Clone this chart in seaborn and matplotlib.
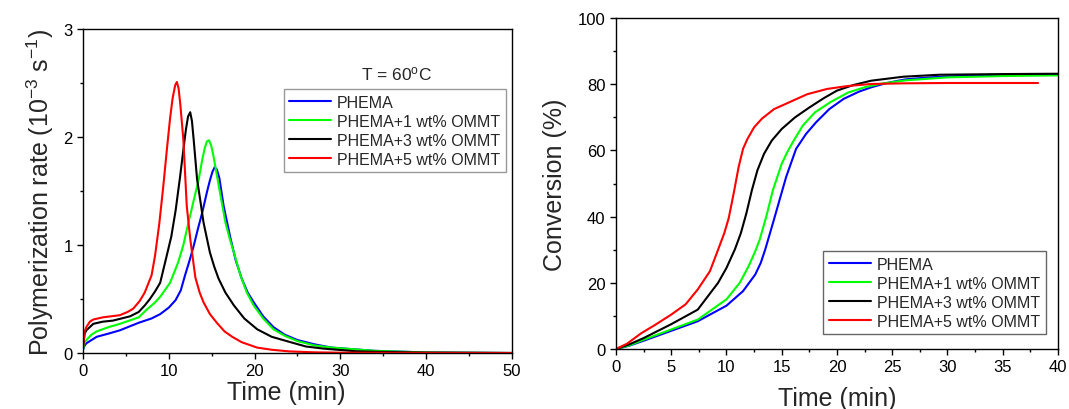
import pandas as pd
import seaborn as sns
import matplotlib.pyplot as plt
from matplotlib.ticker import MultipleLocator

# sample names and colours
names = ['PHEMA', 'PHEMA+1 wt% OMMT', 'PHEMA+3 wt% OMMT', 'PHEMA+5 wt% OMMT']
colors = ['#0000ff', '#00ff00', '#000000', '#ff0000']

# left panel: polymerization rate (10^-3 s^-1) vs time (min)
rate_t_0 = [0, 0.2, 0.4, 1.0, 1.6, 3.0, 4.3, 6.5, 8.0, 9.0, 10.0, 10.8, 11.4, 11.9, 12.4, 12.9, 13.4, 13.9, 14.45, 14.8, 15.1, 15.35, 15.6, 15.9, 16.4, 17.2, 17.8, 18.5, 19.2, 19.9, 21.0, 22.2, 23.5, 25, 27, 29, 34, 40, 50]
rate_0 = [0.03, 0.07, 0.09, 0.12, 0.15, 0.18, 0.21, 0.28, 0.32, 0.36, 0.42, 0.49, 0.58, 0.72, 0.85, 0.99, 1.15, 1.30, 1.49, 1.60, 1.68, 1.72, 1.70, 1.62, 1.36, 1.06, 0.86, 0.69, 0.56, 0.47, 0.34, 0.24, 0.17, 0.12, 0.08, 0.05, 0.02, 0.005, 0]
rate_t_1 = [0, 0.2, 0.4, 1.0, 1.6, 3.0, 4.3, 6.5, 7.4, 8.3, 9.0, 10.15, 11.1, 11.7, 12.3, 12.9, 13.5, 13.9, 14.2, 14.45, 14.7, 14.95, 15.2, 15.6, 16.1, 16.6, 17.1, 17.6, 18.35, 19.1, 19.9, 21.0, 22.2, 23.5, 25, 27, 29, 34, 40, 50]
rate_1 = [0.03, 0.10, 0.12, 0.17, 0.20, 0.24, 0.27, 0.33, 0.40, 0.46, 0.52, 0.65, 0.84, 1.00, 1.21, 1.41, 1.61, 1.79, 1.90, 1.96, 1.97, 1.92, 1.83, 1.65, 1.43, 1.21, 1.06, 0.93, 0.72, 0.56, 0.44, 0.32, 0.22, 0.16, 0.11, 0.07, 0.05, 0.02, 0.005, 0]
rate_t_3 = [0, 0.2, 0.4, 1.2, 2.3, 3.5, 5.5, 6.5, 7.2, 7.8, 8.4, 9.0, 9.7, 10.3, 10.8, 11.3, 11.7, 12.0, 12.25, 12.5, 12.7, 12.9, 13.3, 13.7, 14.05, 14.45, 14.8, 15.3, 15.8, 16.6, 17.6, 18.8, 20.3, 22.0, 24.2, 26, 28.1, 32, 40, 50]
rate_3 = [0.05, 0.18, 0.21, 0.27, 0.29, 0.30, 0.34, 0.38, 0.44, 0.50, 0.57, 0.65, 0.88, 1.08, 1.32, 1.62, 1.88, 2.07, 2.19, 2.23, 2.15, 1.98, 1.61, 1.40, 1.21, 1.06, 0.93, 0.80, 0.69, 0.56, 0.44, 0.32, 0.22, 0.15, 0.10, 0.06, 0.04, 0.015, 0.003, 0]
rate_t_5 = [0, 0.2, 0.4, 0.8, 1.2, 2.3, 3.3, 4.3, 5.2, 5.85, 6.6, 7.2, 8.0, 8.4, 8.9, 9.37, 9.8, 10.15, 10.45, 10.75, 10.95, 11.15, 11.35, 11.7, 12.1, 12.5, 13.1, 13.6, 14.05, 14.8, 15.6, 16.5, 17.4, 18.5, 20.3, 22, 24, 27, 30, 50]
rate_5 = [0.05, 0.20, 0.24, 0.29, 0.31, 0.33, 0.34, 0.35, 0.38, 0.41, 0.48, 0.56, 0.72, 0.90, 1.20, 1.55, 1.90, 2.17, 2.36, 2.48, 2.51, 2.45, 2.30, 1.98, 1.36, 1.06, 0.70, 0.56, 0.47, 0.36, 0.28, 0.20, 0.15, 0.10, 0.05, 0.03, 0.015, 0.006, 0.003, 0]

# right panel: conversion (%) vs time (min)
conv_t_0 = [0, 1.2, 2.5, 5, 7.4, 10, 11.5, 12.6, 13.1, 13.5, 14.2, 14.8, 15.4, 16.3, 17.2, 18.1, 19.3, 20.6, 22, 23.1, 24.5, 26.2, 28, 30, 35, 40]
conv_0 = [0, 1.0, 2.5, 5.5, 8.4, 13.1, 17.5, 22.5, 26, 30, 38, 45, 52, 60.5, 65, 68.5, 72.5, 75.6, 77.8, 79.1, 80.4, 81.5, 82.0, 82.4, 82.8, 82.9]
conv_t_1 = [0, 1.2, 2.5, 5, 7.4, 10, 11.2, 12, 12.6, 13, 13.6, 14.2, 15.0, 15.5, 16.0, 16.9, 18, 19.4, 21, 22.5, 24, 26.2, 30, 35, 40]
conv_1 = [0, 1.1, 2.8, 5.9, 8.9, 15, 20, 25, 29.5, 33, 40, 48, 56, 59.5, 62.5, 67.5, 71.5, 74.6, 77.5, 79.1, 80.2, 81.2, 82.1, 82.5, 82.7]
conv_t_3 = [0, 1.2, 2.5, 5, 7.4, 9.24, 10.0, 10.76, 11.3, 11.8, 12.3, 12.8, 13.4, 14.1, 15, 16.2, 17.5, 18.8, 20, 21.5, 23.1, 26, 29.3, 35, 40]
conv_3 = [0, 1.4, 3.3, 7.5, 11.9, 20, 24.5, 30.1, 35, 41, 48, 54, 59, 63, 66.5, 70, 73, 75.8, 78.1, 79.8, 81.1, 82.3, 82.9, 83.1, 83.2]
conv_t_5 = [0, 1, 2.3, 3.5, 5, 6.3, 7.4, 8.5, 9.24, 9.8, 10.2, 10.65, 11.1, 11.5, 11.9, 12.5, 13.2, 14.3, 15.7, 17.3, 19.1, 21, 23.1, 26, 30, 35, 38.2]
conv_5 = [0, 1.6, 4.8, 7.2, 10.4, 13.5, 18, 23.5, 30, 35, 39.5, 47, 55, 60.5, 63.5, 67, 69.6, 72.5, 74.6, 77, 78.6, 79.5, 80.1, 80.3, 80.4, 80.4, 80.4]


def long_frame(pairs):
    parts = []
    for name, (t, v) in zip(names, pairs):
        parts.append(pd.DataFrame({'time': t, 'value': v, 'sample': name}))
    return pd.concat(parts, ignore_index=True)


rate_df = long_frame([(rate_t_0, rate_0), (rate_t_1, rate_1), (rate_t_3, rate_3), (rate_t_5, rate_5)])
conv_df = long_frame([(conv_t_0, conv_0), (conv_t_1, conv_1), (conv_t_3, conv_3), (conv_t_5, conv_5)])

sns.set_style('ticks')
plt.rcParams['font.family'] = ['Liberation Sans', 'DejaVu Sans']
plt.rcParams['mathtext.fontset'] = 'custom'
plt.rcParams['mathtext.rm'] = 'Liberation Sans'
plt.rcParams['mathtext.it'] = 'Liberation Sans'

fig = plt.figure(figsize=(10.69, 4.10), dpi=100)
ax1 = fig.add_axes([0.0776, 0.1366, 0.4013, 0.790])
ax2 = fig.add_axes([0.5762, 0.1463, 0.4135, 0.807])

palette = dict(zip(names, colors))
sns.lineplot(data=rate_df, x='time', y='value', hue='sample', palette=palette,
             estimator=None, sort=False, lw=1.5, ax=ax1)
sns.lineplot(data=conv_df, x='time', y='value', hue='sample', palette=palette,
             estimator=None, sort=False, lw=1.5, ax=ax2)

for ax in (ax1, ax2):
    for s in ax.spines.values():
        s.set_linewidth(1.0)
        s.set_color('black')
    ax.tick_params(which='both', direction='out', labelsize=12, colors='black', width=1.0)
    ax.tick_params(which='major', length=4)
    ax.tick_params(which='minor', length=2.5)

# left panel
ax1.set_xlim(0, 50)
ax1.set_ylim(0, 3)
ax1.xaxis.set_major_locator(MultipleLocator(10))
ax1.xaxis.set_minor_locator(MultipleLocator(5))
ax1.yaxis.set_major_locator(MultipleLocator(1))
ax1.yaxis.set_minor_locator(MultipleLocator(0.5))
ax1.set_xlabel('Time (min)', fontsize=18)
ax1.xaxis.set_label_coords(0.475, -0.082)
ax1.set_ylabel('Polymerization rate (10$^{-3}$ s$^{-1}$)', fontsize=18, labelpad=5)
ax1.text(0.73, 0.865, 'T = 60$^{\\rm o}$C', transform=ax1.transAxes,
         ha='center', va='center', fontsize=12.5)
leg1 = ax1.legend(loc='upper left', bbox_to_anchor=(0.468, 0.815), fontsize=11.5,
                  frameon=True, fancybox=False, handlelength=2.6, borderpad=0.35,
                  labelspacing=0.25, handletextpad=0.4, borderaxespad=0)
leg1.get_frame().set_edgecolor('#808080')
leg1.get_frame().set_linewidth(1.0)

# right panel
ax2.set_xlim(0, 40)
ax2.set_ylim(0, 100)
ax2.xaxis.set_major_locator(MultipleLocator(5))
ax2.xaxis.set_minor_locator(MultipleLocator(2.5))
ax2.yaxis.set_major_locator(MultipleLocator(20))
ax2.yaxis.set_minor_locator(MultipleLocator(10))
ax2.set_xlabel('Time (min)', fontsize=18, labelpad=8)
ax2.set_ylabel('Conversion (%)', fontsize=18, labelpad=8)
leg2 = ax2.legend(loc='lower right', bbox_to_anchor=(0.972, 0.045), fontsize=11.5,
                  frameon=True, fancybox=False, handlelength=2.6, borderpad=0.35,
                  labelspacing=0.25, handletextpad=0.4, borderaxespad=0)
leg2.get_frame().set_edgecolor('#404040')
leg2.get_frame().set_linewidth(1.0)

fig.savefig('out.png', dpi=100)
